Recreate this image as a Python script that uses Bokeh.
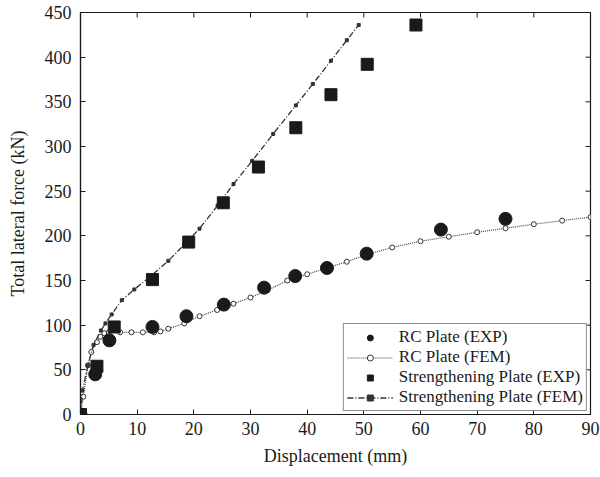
import math
from bokeh.plotting import figure
from bokeh.models import Legend, LegendItem, FixedTicker, Range1d
from bokeh.embed import file_html
from bokeh.resources import INLINE

# RC Plate (EXP)
rc_exp_x = [0, 2.6, 5.1, 12.7, 18.7, 25.3, 32.4, 37.9, 43.5, 50.5, 63.6, 75.0]
rc_exp_y = [0, 45, 83, 98, 110, 123, 142, 155, 164, 180, 207, 219]

# RC Plate (FEM)
rc_fem_x = [0, 0.5, 1.3, 1.9, 2.9, 3.5, 4.2, 5, 7, 9, 11, 13, 14.1, 15.5, 18.3, 21,
            24.1, 27, 30, 33, 36.5, 40, 43.5, 47, 50, 55, 60, 65, 70, 75, 80, 85, 90]
rc_fem_y = [0, 20, 55, 70, 81, 87, 91, 92, 92, 92, 92, 92, 93, 96, 102, 110,
            117, 124, 131, 139, 150, 157, 164, 171, 178, 187, 194, 199, 204, 208.5, 213, 217, 221]

# Strengthening Plate (EXP)
st_exp_x = [0, 2.9, 5.95, 12.7, 19.1, 25.2, 31.4, 38.0, 44.2, 50.6, 59.2]
st_exp_y = [0, 54, 98, 151, 193, 237, 277, 321, 358, 392, 436]

# Strengthening Plate (FEM)
st_fem_x = [0, 0.35, 1.3, 2.3, 3.6, 4.4, 5.5, 7.3, 9.5, 12.4, 15.5, 18.3, 21, 24.2,
            27, 30.3, 34, 38, 41, 44.2, 47, 49.1]
st_fem_y = [0, 27, 55, 78, 94, 102, 112, 128, 140, 155, 172, 190, 208, 234,
            258, 284, 314, 346, 370, 396, 419, 436]

x_ticks = [0, 10, 20, 30, 40, 50, 60, 70, 80, 90]
y_ticks = [0, 50, 100, 150, 200, 250, 300, 350, 400, 450]

FONT = "Liberation Serif"
INK = "#1a1a1a"
X_MIN, X_MAX, Y_MIN, Y_MAX = 0, 90, 0, 450

p = figure(width=600, height=477, output_backend="svg", toolbar_location=None,
           x_range=Range1d(X_MIN, X_MAX), y_range=Range1d(Y_MIN, Y_MAX),
           min_border_left=80, min_border_right=10, min_border_top=12, min_border_bottom=63)
p.grid.visible = False
p.outline_line_color = INK
p.outline_line_width = 1.2
p.background_fill_color = "white"
p.border_fill_color = "white"

for ax in [p.xaxis[0], p.yaxis[0]]:
    ax.major_tick_in = 5
    ax.major_tick_out = 0
    ax.minor_tick_line_color = None
    ax.axis_line_color = INK
    ax.axis_line_width = 1.2
    ax.major_tick_line_color = INK
    ax.major_label_text_font = FONT
    ax.major_label_text_font_size = "18px"
    ax.major_label_text_color = INK
    ax.axis_label_text_font = FONT
    ax.axis_label_text_font_size = "18px"
    ax.axis_label_text_font_style = "normal"
    ax.axis_label_text_color = INK

p.xaxis[0].ticker = FixedTicker(ticks=x_ticks)
p.yaxis[0].ticker = FixedTicker(ticks=y_ticks)
p.xaxis[0].axis_label = "Displacement (mm)"
p.yaxis[0].axis_label = "Total lateral force (kN)"
p.xaxis[0].major_label_standoff = 7
p.yaxis[0].major_label_standoff = 9
p.xaxis[0].axis_label_standoff = 8
p.yaxis[0].axis_label_standoff = 14

# inward tick marks on the top and right edges (clipped to the frame, so half shows)
p.scatter(x=x_ticks, y=[Y_MAX] * len(x_ticks), marker="dash", angle=math.pi / 2,
          size=10, line_color=INK, line_width=1)
p.scatter(x=[X_MAX] * len(y_ticks), y=y_ticks, marker="dash",
          size=10, line_color=INK, line_width=1)

# FEM curves
r_rcl = p.line(rc_fem_x, rc_fem_y, line_color="#444444", line_width=1.2, line_dash="1 1")
r_rcm = p.scatter(rc_fem_x, rc_fem_y, marker="circle", size=5, fill_color="white",
                  line_color="#333333", line_width=1)
r_stl = p.line(st_fem_x, st_fem_y, line_color="#333333", line_width=1.3, line_dash="6 2 1 2")
r_stm = p.scatter(st_fem_x, st_fem_y, marker="square", size=3, fill_color="#333333",
                  line_color="#333333")

# EXP points
r_rce = p.scatter(rc_exp_x, rc_exp_y, marker="circle", size=13, fill_color=INK, line_color=INK)
r_ste = p.scatter(st_exp_x, st_exp_y, marker="square", size=12, fill_color=INK, line_color=INK)

legend = Legend(items=[
    LegendItem(label="RC Plate (EXP)", renderers=[r_rce]),
    LegendItem(label="RC Plate (FEM)", renderers=[r_rcl, r_rcm]),
    LegendItem(label="Strengthening Plate (EXP)", renderers=[r_ste]),
    LegendItem(label="Strengthening Plate (FEM)", renderers=[r_stl, r_stm]),
], location="bottom_right")
legend.label_text_font = FONT
legend.label_text_font_size = "17px"
legend.label_text_color = INK
legend.border_line_color = INK
legend.border_line_width = 1
legend.background_fill_alpha = 1
legend.glyph_width = 46
legend.glyph_height = 15
legend.label_height = 15
legend.spacing = 0
legend.padding = 3
legend.margin = 3
legend.label_standoff = 6
p.add_layout(legend, "center")

open("out.html", "w").write(file_html(p, INLINE))
